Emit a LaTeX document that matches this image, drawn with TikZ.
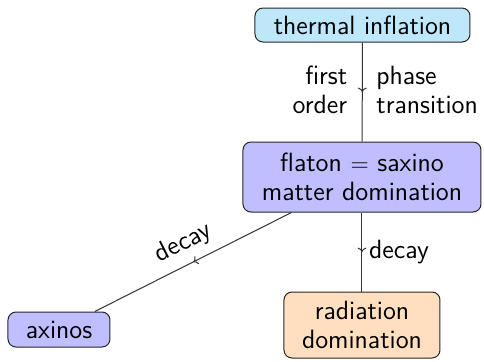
\documentclass[tikz,border=0pt]{standalone}
\usetikzlibrary{decorations.markings,arrows.meta}
\begin{document}
\begin{tikzpicture}[x=0.5pt,y=-0.5pt,
  font=\fontsize{13.2}{14.5}\selectfont\sffamily,
  box/.style={draw=black!85, rounded corners=4pt, align=center, inner sep=0pt, line width=0.5pt},
  conn/.style={draw=black!80, line width=0.5pt, postaction={decorate},
    decoration={markings, mark=at position 0.5 with {\arrow{To[length=2.2pt,width=4.4pt]}}}}]
\definecolor{tcol}{RGB}{190,232,250}
\useasboundingbox (0,0) rectangle (484,361);
\node[box, fill=tcol, minimum width=107.5pt, minimum height=17pt] (thermal) at (362.5,25) {thermal inflation};
\node[box, fill=blue!25, minimum width=119pt, minimum height=35pt] (flaton) at (362,177) {flaton $=$ saxino\\matter domination};
\node[box, fill=orange!25, minimum width=78pt, minimum height=33pt] (rad) at (362,325) {radiation\\domination};
\node[box, fill=blue!25, minimum width=51pt, minimum height=17.5pt] (axinos) at (59,329.5) {axinos};
\draw[conn] (thermal) -- node[left, align=right, xshift=-4pt, yshift=1pt] {first\\order} node[right, align=left, xshift=3.5pt, yshift=1pt] {phase\\transition} (flaton);
\draw[conn] (flaton) -- node[right] {decay} (rad);
\draw[conn] (flaton) -- node[above, sloped, yshift=1pt] {decay} (axinos);
\end{tikzpicture}
\end{document}
